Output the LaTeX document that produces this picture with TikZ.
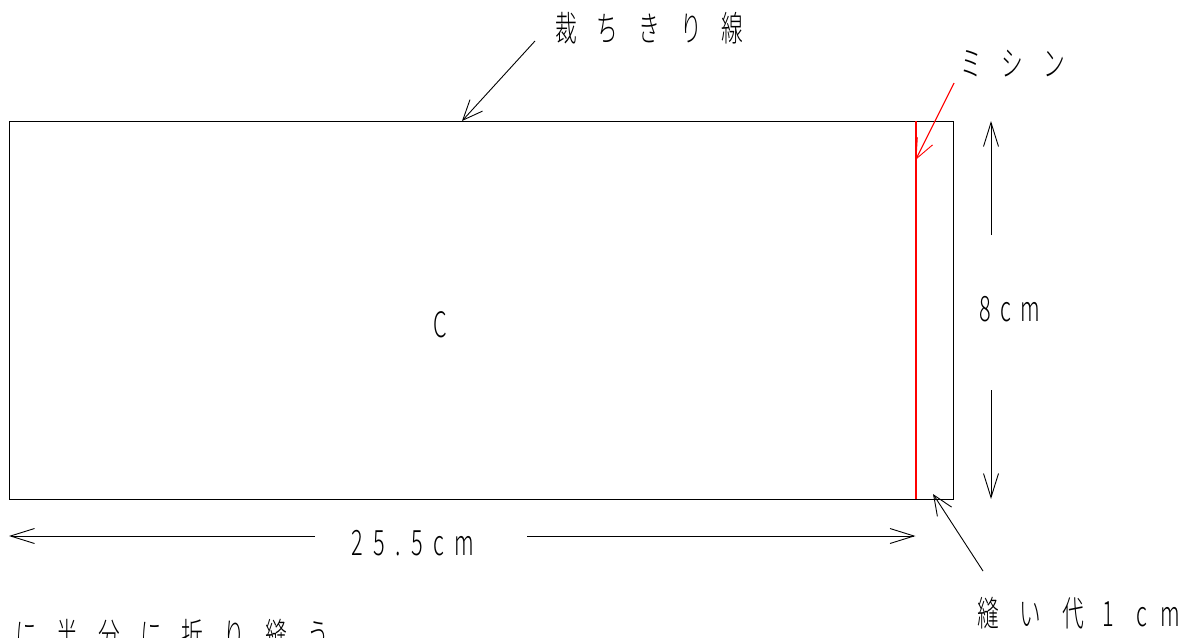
\documentclass[tikz,border=0pt]{standalone}
\usepackage{fontspec}
\newfontfamily\cjk[FakeStretch=0.62,UprightFont={* Light}]{Noto Sans CJK JP}
\usetikzlibrary{arrows.meta}
\definecolor{sewred}{RGB}{255,0,0}
\tikzset{
  x=1pt,y=-1pt,
  dim/.style={draw=black,line width=0.9pt,-{Straight Barb[length=24pt,width=15pt,line width=0.9pt]}},
  ptr/.style={dim,-{Straight Barb[length=20pt,width=17pt,line width=0.9pt]}},
  lbl/.style={inner sep=0pt,anchor=base west,font=\cjk\fontsize{35}{35}\selectfont,text=black},
  sew/.style={draw=sewred,line width=1.1pt},
  sewline/.style={draw=sewred,line width=2pt}
}
\newcommand{\gap}[1]{\hspace{#1pt}}
\begin{document}
\begin{tikzpicture}
\clip (0,0) rectangle (1196,637);
\useasboundingbox (0,0) rectangle (1196,637);
\fill[white] (0,0) rectangle (1196,637);
\coordinate (tl) at (9,121);
\coordinate (tr) at (953,121);
\coordinate (br) at (953,499);
\coordinate (bl) at (9,499);
\draw[line width=0.9pt] (tl) -- (tr) -- (br) -- (bl) -- cycle;
\node[lbl] (c) at (433,337) {C};
\node[lbl] (t1) at (555,41) {裁\gap{20}ち\gap{20}き\gap{20}り\gap{20}線};
\node[lbl] (t2) at (960,76) {ミ\gap{20}シ\gap{20}ン};
\node[lbl] (t3) at (979,321) {8\gap{9.5}c\gap{9.5}m};
\node[lbl] (t4) at (351,555) {2\gap{10.5}5\gap{10.5}.\gap{10.5}5\gap{10.5}c\gap{10.5}m};
\node[lbl] (t5) at (977,626) {縫\gap{21}い\gap{21}代\gap{18}1\gap{23}c\gap{13}m};
\node[lbl] (t6) at (15,648) {に\gap{20}半\gap{20}分\gap{20}に\gap{20}折\gap{20}り\gap{20}縫\gap{20}う};
\coordinate (a1s) at (535,41); \coordinate (a1e) at (462,121);
\draw[ptr] (a1s) -- (a1e);
\coordinate (a3s) at (983,571); \coordinate (a3e) at (933,494);
\draw[ptr] (a3s) -- (a3e);
\coordinate (a4s) at (991,235); \coordinate (a4e) at (991,121);
\draw[dim] (a4s) -- (a4e);
\coordinate (a5s) at (991,390); \coordinate (a5e) at (991,499);
\draw[dim] (a5s) -- (a5e);
\coordinate (a6s) at (315,536); \coordinate (a6e) at (9,536);
\draw[dim] (a6s) -- (a6e);
\coordinate (a7s) at (527,536); \coordinate (a7e) at (915.5,536);
\draw[dim] (a7s) -- (a7e);
\coordinate (s1) at (915.5,121);
\coordinate (s2) at (915.5,499);
\draw[sewline] (s1) -- (s2);
\coordinate (a2s) at (954,83); \coordinate (a2e) at (915.5,160);
\draw[sew,-{Straight Barb[length=20pt,width=17pt,line width=0.9pt]}] (a2s) -- (a2e);
\end{tikzpicture}
\end{document}
